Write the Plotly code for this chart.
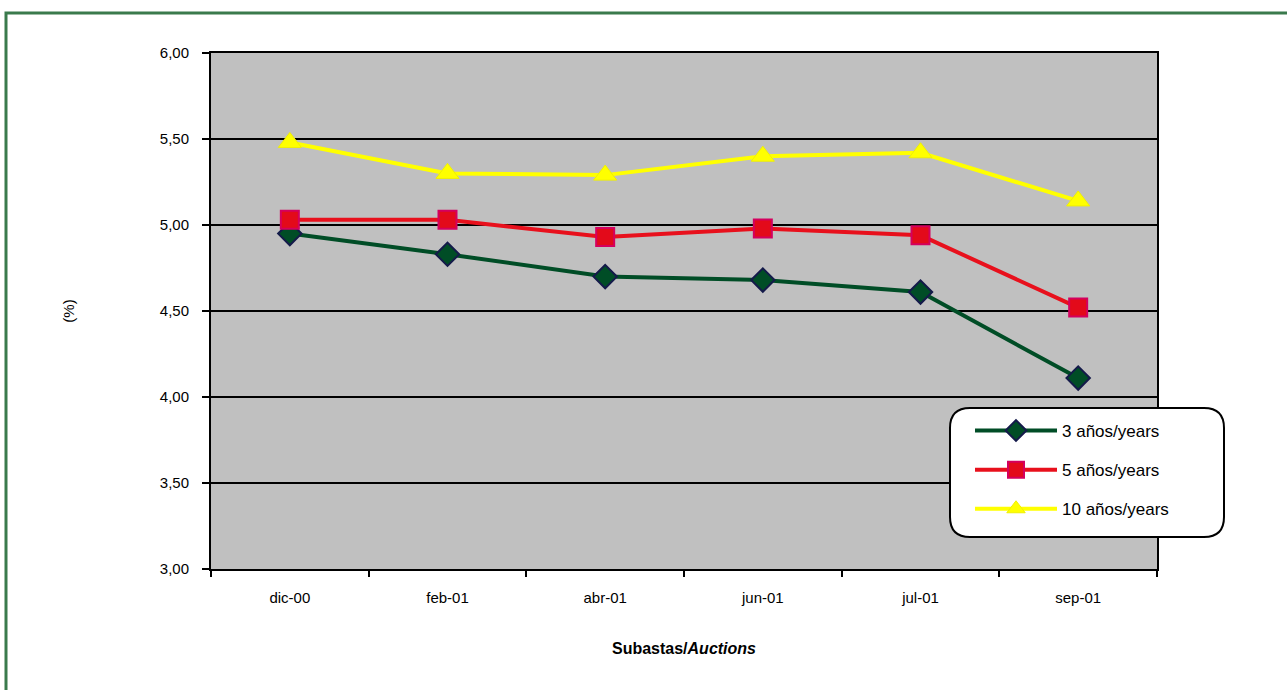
import plotly.graph_objects as go

# Auction dates and yields (%) by maturity
subastas = ["dic-00", "feb-01", "abr-01", "jun-01", "jul-01", "sep-01"]
y3 = [4.95, 4.83, 4.70, 4.68, 4.61, 4.11]
y5 = [5.03, 5.03, 4.93, 4.98, 4.94, 4.52]
y10 = [5.48, 5.30, 5.29, 5.40, 5.42, 5.14]
y_ticks = [3.0, 3.5, 4.0, 4.5, 5.0, 5.5, 6.0]
y_tick_text = [f"{v:.2f}".replace(".", ",") for v in y_ticks]

W, H = 1287, 690
L, R, T, B = 211, 130, 53, 121
PW, PH = W - L - R, H - T - B


def px(x):
    return (x - L) / PW


def py(y):
    return 1 - (y - T) / PH


fig = go.Figure()
fig.add_trace(go.Scatter(
    x=subastas, y=y3, name="3 años/years", mode="lines+markers", legendgroup="a",
    line=dict(color="#004d26", width=4),
    marker=dict(symbol="diamond", size=18, color="#004d26",
                line=dict(color="#141a4a", width=2)),
))
fig.add_trace(go.Scatter(
    x=subastas, y=y5, name="5 años/years", mode="lines+markers", legendgroup="b",
    line=dict(color="#e8101c", width=4),
    marker=dict(symbol="square", size=18, color="#e30a1a",
                line=dict(color="#d4005e", width=2)),
))
fig.add_trace(go.Scatter(
    x=subastas, y=y10, name="10 años/years", mode="lines+markers", legendgroup="c",
    line=dict(color="#ffff00", width=4),
    marker=dict(symbol="triangle-up", size=20, color="#ffff00",
                line=dict(color="#f0f000", width=1)),
))

# rounded legend frame
x0, x1, ya, yb, r = 950, 1224, 408, 537, 20
path = (
    f"M {px(x0 + r)},{py(ya)} L {px(x1 - r)},{py(ya)} "
    f"Q {px(x1)},{py(ya)} {px(x1)},{py(ya + r)} "
    f"L {px(x1)},{py(yb - r)} Q {px(x1)},{py(yb)} {px(x1 - r)},{py(yb)} "
    f"L {px(x0 + r)},{py(yb)} Q {px(x0)},{py(yb)} {px(x0)},{py(yb - r)} "
    f"L {px(x0)},{py(ya + r)} Q {px(x0)},{py(ya)} {px(x0 + r)},{py(ya)} Z"
)
shapes = [
    # outer green frame
    dict(type="rect", xref="paper", yref="paper",
         x0=px(6), x1=px(W + 20), y0=py(H + 20), y1=py(13),
         line=dict(color="#3a7a4c", width=3), fillcolor="rgba(0,0,0,0)",
         layer="below"),
    dict(type="path", xref="paper", yref="paper", path=path,
         fillcolor="white", line=dict(color="black", width=2), layer="above"),
]

fig.update_layout(
    width=W, height=H,
    margin=dict(l=L, r=R, t=T, b=B),
    paper_bgcolor="white",
    plot_bgcolor="#c0c0c0",
    font=dict(family="Liberation Sans Narrow, Arial Narrow, Liberation Sans, Arial",
              color="black", size=14),
    showlegend=True,
    legend=dict(
        x=px(970), y=py(413), xanchor="left", yanchor="top",
        bgcolor="rgba(0,0,0,0)", borderwidth=0,
        font=dict(size=17, family="Liberation Sans, Arial"),
        itemwidth=82, tracegroupgap=14,
    ),
    shapes=shapes,
    xaxis=dict(
        type="category", range=[-0.5, 5.5], tickson="boundaries",
        ticks="outside", ticklen=6, ticklabelstandoff=14,
        tickwidth=2, tickcolor="black", showgrid=False,
        showline=True, linecolor="black", linewidth=2, mirror=True,
        tickfont=dict(size=15),
        title=dict(text="<b>Subastas/<i>Auctions</i></b>",
                   font=dict(size=16, family="Liberation Sans Narrow, Arial Narrow, Arial"),
                   standoff=38),
    ),
    yaxis=dict(
        range=[3, 6], tickvals=y_ticks, ticktext=y_tick_text,
        ticks="outside", ticklen=7, tickwidth=2, tickcolor="black",
        ticklabelstandoff=10,
        showgrid=True, gridcolor="black", gridwidth=2,
        showline=True, linecolor="black", linewidth=2, mirror=True,
        zeroline=False, tickfont=dict(size=15),
        title=dict(text="(%)", font=dict(size=15), standoff=82),
    ),
)

fig.write_html("out.html")
